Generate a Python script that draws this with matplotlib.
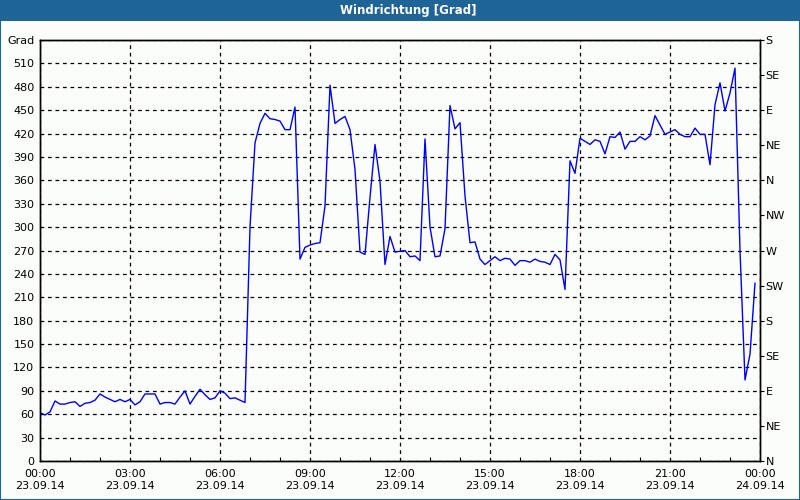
import pandas as pd
import matplotlib.pyplot as plt
import matplotlib.dates as mdates

title = 'Windrichtung [Grad]'
start = '2014-09-23 00:00'
end = '2014-09-24 00:00'

# Windrichtung in Grad, 10-Minuten-Werte ab 00:00
wind_dir = [62, 59, 63, 77, 73, 73, 75, 76, 70, 74, 75, 78, 86, 82, 79, 76, 79, 76,
            79, 72, 76, 86, 86, 86, 73, 75, 75, 73, 82, 90, 73, 83, 92, 85, 79, 81,
            90, 87, 80, 81, 78, 75,
            300, 408, 433, 446, 439, 438, 436, 425, 425, 454, 259, 274, 277, 279, 280, 327,
            482, 433, 438, 442, 425, 374, 268, 265, 338, 406, 359, 252, 288, 268,
            269, 270, 262, 263, 257, 413, 300, 262, 263, 298, 456, 426, 434, 340, 280, 281,
            259, 252, 257, 262, 257, 260, 259, 251, 257, 257, 255, 259, 256, 255, 252, 265,
            258, 220, 385, 369, 414, 410, 406, 412, 410, 394, 416, 415, 422, 400, 410, 410,
            416, 412, 417, 443, 431, 419, 422, 425, 419, 416, 416, 427, 419, 419, 380, 457,
            485, 449, 472, 504, 270, 104, 137, 228]

left_ticks = list(range(0, 511, 30))
right_ticks = list(range(0, 541, 45))
right_labels = ['N', 'NE', 'E', 'SE', 'S', 'SW', 'W', 'NW', 'N', 'NE', 'E', 'SE', 'S']

times = pd.date_range(start, periods=len(wind_dir), freq='10min')

bg = '#fbfdfb'
bar_col = '#1f6497'

fig = plt.figure(figsize=(8, 5), dpi=100, facecolor=bg)
ax = fig.add_axes([0.05, 0.078, 0.90, 0.842], facecolor=bg)

ax.plot(times, wind_dir, color='#0000ff', linewidth=1.0)

ax.set_xlim(pd.Timestamp(start), pd.Timestamp(end))
ax.set_ylim(0, 540)
ax.set_yticks(left_ticks + [540])
ax.set_yticklabels([str(v) for v in left_ticks] + ['Grad'])

ax.xaxis.set_major_locator(mdates.HourLocator(byhour=range(0, 24, 3)))
ax.xaxis.set_minor_locator(mdates.HourLocator())
ax.xaxis.set_major_formatter(mdates.DateFormatter('%H:%M\n%d.%m.%y'))

ax.grid(True, which='major', color='black', linestyle=(0, (3, 3)), linewidth=0.9)
ax.tick_params(axis='x', which='major', length=0, pad=6, labelsize=8)
ax.tick_params(axis='x', which='minor', direction='in', length=3, width=0.8)
ax.tick_params(axis='y', length=0, pad=4, labelsize=8)
for s in ax.spines.values():
    s.set_linewidth(1.0)

ax2 = ax.twinx()
ax2.set_ylim(0, 540)
ax2.set_yticks(right_ticks)
ax2.set_yticklabels(right_labels)
ax2.tick_params(axis='y', direction='out', length=3, width=0.8, pad=1, labelsize=8)
for s in ax2.spines.values():
    s.set_linewidth(1.0)

# Titelleiste und Fensterrahmen
fig.patches.append(plt.Rectangle((0, 1 - 21 / 500), 1, 21 / 500, transform=fig.transFigure,
                                 facecolor=bar_col, edgecolor='none', zorder=0))
fig.patches.append(plt.Rectangle((0.0006, 0.001), 0.9988, 0.998, transform=fig.transFigure,
                                 facecolor='none', edgecolor=bar_col, linewidth=1.5, zorder=0))
fig.text(0.51, 1 - 10.5 / 500, title, color='white', fontsize=8.5, fontweight='bold',
         ha='center', va='center')

plt.savefig('out.png', dpi=100, facecolor=bg)
